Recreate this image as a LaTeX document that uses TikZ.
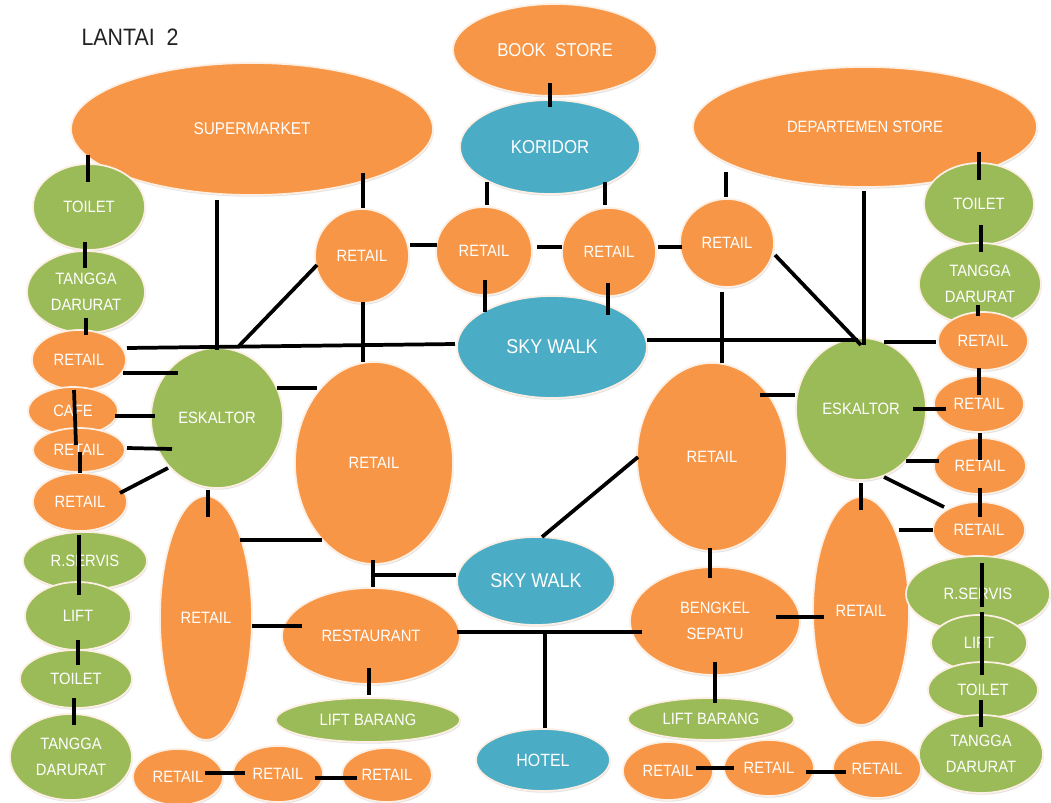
\documentclass[tikz,border=0pt]{standalone}
\usepackage{fontspec}
\setmainfont{Liberation Sans}[FakeStretch=0.9]
\usetikzlibrary{shapes.geometric,shadows,calc}

\definecolor{orangeF}{HTML}{F79646}
\definecolor{greenF}{HTML}{9BBB59}
\definecolor{blueF}{HTML}{4BACC6}
\definecolor{rim}{HTML}{FDEFE3}
\definecolor{titleC}{HTML}{222222}

% font size helper (12.3pt is the usual label size)
\newcommand\fsz[1]{\fontsize{#1}{20}\selectfont}
% connector between two nodes, each end given as an offset from the node centre
\newcommand\lnk[4]{\draw[link] ($(#1)+#2$) -- ($(#3)+#4$);}

\begin{document}
\begin{tikzpicture}[x=0.75pt,y=-0.75pt,
  room/.style={ellipse, draw=rim, line width=1.3pt, text=white, inner sep=0pt,
    align=center, font=\fsz{12.3},
    drop shadow={shadow xshift=0.6pt, shadow yshift=-1.3pt, opacity=0.22}},
  org/.style={room, fill=orangeF},
  grn/.style={room, fill=greenF},
  blu/.style={room, fill=blueF},
  sz/.style 2 args={minimum width=#1*1.5pt, minimum height=#2*1.5pt},
  link/.style={line width=2.8pt, black, line cap=butt},
]
\useasboundingbox[fill=white] (0,0) rectangle (1051,803);

\node[text=titleC, font=\fsz{17.8}] (title) at (130,37) {LANTAI~~2};

% ---------- top row ----------
\node[org, sz={181}{66}, font=\fsz{12.8}] (super) at (252,129) {SUPERMARKET};
\node[org, sz={102}{46}, font=\fsz{14}] (book) at (555,50) {BOOK~~STORE};
\node[blu, sz={90}{47}, font=\fsz{14}] (kor) at (550,147) {KORIDOR};
\node[org, sz={172}{60}] (dept) at (865,127) {DEPARTEMEN STORE};

% ---------- left column ----------
\node[grn, sz={56}{43}] (toiletL1) at (89,207) {TOILET};
\node[grn, sz={59}{41}] (tanggaL1) at (86,292) {TANGGA\\DARURAT};
\node[org, sz={47}{30}] (retL1) at (79,360) {RETAIL};
\node[org, sz={45}{24}] (cafe) at (73,411) {CAFE};
\node[org, sz={46}{22}] (retL2) at (79,450) {RETAIL};
\node[org, sz={47}{29}] (retL3) at (80,502) {RETAIL};
\node[grn, sz={62}{29}] (servL) at (85,561) {R.SERVIS};
\node[grn, sz={53}{34}] (liftL) at (78,616) {LIFT};
\node[grn, sz={56}{29}] (toiletL2) at (76,679) {TOILET};
\node[grn, sz={61}{43}] (tanggaL2) at (71,757) {TANGGA\\DARURAT};

% ---------- left block ----------
\node[grn, sz={66}{70}] (eskL) at (217,418) {ESKALTOR};
\node[org, sz={79}{101}] (retBigL) at (374,463) {RETAIL};
\node[org, sz={46}{122}] (retTallL) at (206,618) {RETAIL};
\node[org, sz={89}{48}] (rest) at (371,636) {RESTAURANT};
\node[grn, sz={92}{22}] (liftbL) at (368,720) {LIFT BARANG};
\node[org, sz={45}{28}] (botL1) at (178,777) {RETAIL};
\node[org, sz={45}{28}] (botL2) at (278,774) {RETAIL};
\node[org, sz={45}{27}] (botL3) at (387,775) {RETAIL};

% ---------- retail row under the corridor ----------
\node[org, sz={47}{47}] (r1) at (362,256) {RETAIL};
\node[org, sz={48}{44}] (r2) at (484,251) {RETAIL};
\node[org, sz={47}{44}] (r3) at (609,252) {RETAIL};
\node[org, sz={47}{44}] (r4) at (727,243) {RETAIL};
\node[blu, sz={95}{51}, font=\fsz{15}] (skyU) at (552,347) {SKY WALK};

% ---------- right block ----------
\node[org, sz={75}{94}] (retBigR) at (712,457) {RETAIL};
\node[grn, sz={65}{71}] (eskR) at (861,409) {ESKALTOR};
\node[org, sz={48}{114}] (retTallR) at (861,611) {RETAIL};
\node[blu, sz={79}{44}, font=\fsz{15}] (skyL) at (536,581) {SKY WALK};
\node[org, sz={85}{54}] (beng) at (715,621) {BENGKEL\\SEPATU};
\node[blu, sz={67}{31}, font=\fsz{13.3}] (hotel) at (543,760) {HOTEL};
\node[grn, sz={83}{21}] (liftbR) at (711,719) {LIFT BARANG};
\node[org, sz={45}{29}] (botR1) at (668,771) {RETAIL};
\node[org, sz={45}{28}] (botR2) at (769,768) {RETAIL};
\node[org, sz={44}{29}] (botR3) at (877,769) {RETAIL};

% ---------- right column ----------
\node[grn, sz={55}{41}] (toiletR1) at (979,204) {TOILET};
\node[grn, sz={61}{41}] (tanggaR1) at (980,284) {TANGGA\\DARURAT};
\node[org, sz={45}{29}] (R1) at (983,341) {RETAIL};
\node[org, sz={45}{28}] (R2) at (979,404) {RETAIL};
\node[org, sz={46}{28}] (R3) at (980,466) {RETAIL};
\node[org, sz={46}{28}] (R4) at (979,530) {RETAIL};
\node[grn, sz={72}{38}] (servR) at (978,594) {R.SERVIS};
\node[grn, sz={48}{28}] (liftR) at (979,643) {LIFT};
\node[grn, sz={55}{28}] (toiletR2) at (983,690) {TOILET};
\node[grn, sz={62}{39}] (tanggaR2) at (981,754) {TANGGA\\DARURAT};

% ---------- connectors: left side ----------
\lnk{super}{(-164,26)}{toiletL1}{(-1,-25)}
\lnk{toiletL1}{(-4,35)}{tanggaL1}{(-1,-24)}
\lnk{tanggaL1}{(0,26)}{retL1}{(7,-25)}
\lnk{retL1}{(-5,30)}{retL2}{(-3,-5)}
\lnk{retL2}{(1,2)}{retL3}{(0,-29)}
\lnk{retL3}{(-1,33)}{liftL}{(1,-21)}
\lnk{liftL}{(0,24)}{toiletL2}{(2,-14)}
\lnk{toiletL2}{(-2,19)}{tanggaL2}{(3,-32)}
\lnk{super}{(-35,71)}{eskL}{(0,-68)}
\lnk{r1}{(-45,9)}{eskL}{(21,-71)}
\lnk{super}{(111,44)}{r1}{(1,-48)}
\lnk{r1}{(1,46)}{retBigL}{(-11,-101)}
\lnk{retL1}{(48,-12)}{skyU}{(-97,-3)}
\lnk{retL1}{(44,13)}{eskL}{(-39,-45)}
\lnk{cafe}{(42,5)}{eskL}{(-62,-2)}
\lnk{retL2}{(48,-2)}{eskL}{(-45,31)}
\lnk{retL3}{(40,-9)}{eskL}{(-49,50)}
\lnk{eskL}{(60,-30)}{retBigL}{(-57,-75)}
\lnk{eskL}{(-9,72)}{retTallL}{(2,-101)}
\lnk{retTallL}{(34,-78)}{retBigL}{(-52,77)}
\lnk{retBigL}{(-1,97)}{rest}{(2,-49)}
\coordinate (j1) at ($(rest)+(2,-61)$);
\draw[link] (j1) -- (j1 -| skyL.west);
\lnk{retTallL}{(46,8)}{rest}{(-69,-10)}
\lnk{rest}{(-2,32)}{liftbL}{(1,-25)}
\lnk{rest}{(86,-4)}{beng}{(-73,11)}
\coordinate (j2) at ($(rest)+(174,-4)$);
\draw[link] (j2) -- (j2 |- hotel.north);
\lnk{botL1}{(27,-4)}{botL2}{(-33,-1)}
\lnk{botL2}{(37,4)}{botL3}{(-30,3)}

% ---------- connectors: centre and top ----------
\lnk{book}{(-5,33)}{kor}{(0,-40)}
\lnk{kor}{(-63,35)}{r2}{(3,-46)}
\lnk{kor}{(55,35)}{r3}{(-4,-47)}
\lnk{r1}{(48,-11)}{r2}{(-47,-6)}
\lnk{r2}{(53,-4)}{r3}{(-47,-5)}
\lnk{r3}{(49,-5)}{r4}{(-45,4)}
\lnk{r2}{(1,29)}{skyU}{(-67,-35)}
\lnk{r3}{(-1,31)}{skyU}{(56,-32)}
\lnk{dept}{(-139,45)}{r4}{(-1,-46)}
\lnk{r4}{(-5,49)}{retBigR}{(10,-94)}
\lnk{r4}{(48,12)}{eskR}{(0,-64)}
\lnk{dept}{(-1,64)}{eskR}{(3,-64)}
\lnk{skyU}{(95,-7)}{eskR}{(-3,-69)}

% ---------- connectors: right side ----------
\lnk{eskR}{(23,-67)}{R1}{(-47,1)}
\lnk{dept}{(114,25)}{toiletR1}{(0,-24)}
\lnk{toiletR1}{(2,21)}{tanggaR1}{(1,-32)}
\lnk{tanggaR1}{(-2,21)}{R1}{(-5,-25)}
\lnk{R1}{(-4,27)}{R2}{(0,-9)}
\lnk{eskR}{(52,0)}{R2}{(-33,5)}
\lnk{R2}{(1,29)}{R3}{(0,-6)}
\lnk{eskR}{(45,52)}{R3}{(-41,-5)}
\lnk{R3}{(0,22)}{R4}{(1,-13)}
\lnk{eskR}{(23,68)}{R4}{(-35,-23)}
\lnk{retTallR}{(38,-81)}{R4}{(-46,0)}
\lnk{eskR}{(0,74)}{retTallR}{(0,-101)}
\lnk{R4}{(3,33)}{servR}{(4,13)}
\lnk{servR}{(4,18)}{toiletR2}{(-1,-15)}
\lnk{toiletR2}{(-2,10)}{tanggaR2}{(0,-27)}
\lnk{retBigR}{(48,-62)}{eskR}{(-66,-14)}
\lnk{retBigR}{(-74,0)}{skyL}{(6,-44)}
\lnk{retBigR}{(-2,91)}{beng}{(-5,-43)}
\lnk{beng}{(61,-4)}{retTallR}{(-37,6)}
\lnk{beng}{(0,41)}{liftbR}{(4,-16)}
\lnk{botR1}{(28,-3)}{botR2}{(-35,0)}
\lnk{botR2}{(37,4)}{botR3}{(-31,3)}

\end{tikzpicture}
\end{document}
